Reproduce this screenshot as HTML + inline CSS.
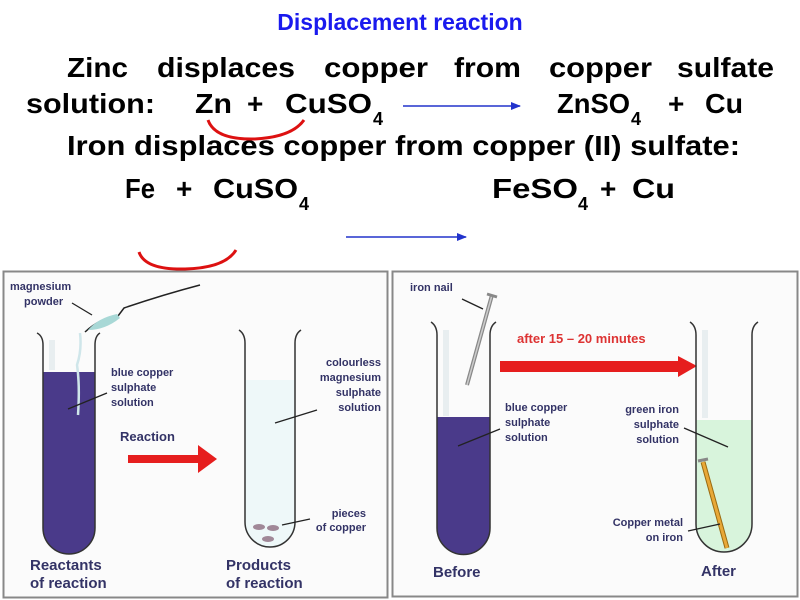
<!DOCTYPE html>
<html><head><meta charset="utf-8"><style>
html,body{margin:0;padding:0;background:#fff;}
svg{display:block;}
text{font-family:"Liberation Sans",Arial,sans-serif;font-weight:bold;}
</style></head><body>
<svg width="800" height="600" viewBox="0 0 800 600" xmlns="http://www.w3.org/2000/svg">
<defs>
<marker id="ba" markerWidth="10" markerHeight="8" refX="9" refY="4" orient="auto" markerUnits="userSpaceOnUse"><path d="M0,0 L10,4 L0,8 Z" fill="#2233cc"/></marker>
</defs>
<text x="400" y="30" font-size="23" fill="#1a1aee" text-anchor="middle">Displacement reaction</text>
<g font-size="28" fill="#000">
<text x="67" y="77" textLength="61" lengthAdjust="spacingAndGlyphs">Zinc</text>
<text x="157" y="77" textLength="138" lengthAdjust="spacingAndGlyphs">displaces</text>
<text x="324" y="77" textLength="104" lengthAdjust="spacingAndGlyphs">copper</text>
<text x="454" y="77" textLength="67" lengthAdjust="spacingAndGlyphs">from</text>
<text x="549" y="77" textLength="103" lengthAdjust="spacingAndGlyphs">copper</text>
<text x="677" y="77" textLength="97" lengthAdjust="spacingAndGlyphs">sulfate</text>
<text x="26" y="113" textLength="129" lengthAdjust="spacingAndGlyphs">solution:</text>
<text x="195" y="113" textLength="37" lengthAdjust="spacingAndGlyphs">Zn</text>
<text x="247" y="113">+</text>
<text x="285" y="113" textLength="87" lengthAdjust="spacingAndGlyphs">CuSO</text>
<text x="373" y="125" font-size="18">4</text>
<text x="557" y="113" textLength="73" lengthAdjust="spacingAndGlyphs">ZnSO</text>
<text x="631" y="125" font-size="18">4</text>
<text x="668" y="113">+</text>
<text x="705" y="113" textLength="38" lengthAdjust="spacingAndGlyphs">Cu</text>
<text x="67" y="155" textLength="673" lengthAdjust="spacingAndGlyphs">Iron displaces copper from copper (II) sulfate:</text>
<text x="125" y="198" textLength="30" lengthAdjust="spacingAndGlyphs">Fe</text>
<text x="176" y="198">+</text>
<text x="213" y="198" textLength="85" lengthAdjust="spacingAndGlyphs">CuSO</text>
<text x="299" y="210" font-size="18">4</text>
<text x="492" y="198" textLength="86" lengthAdjust="spacingAndGlyphs">FeSO</text>
<text x="578" y="210" font-size="18">4</text>
<text x="600" y="198">+</text>
<text x="632" y="198" textLength="43" lengthAdjust="spacingAndGlyphs">Cu</text>
</g>
<line x1="403" y1="106" x2="520" y2="106" stroke="#2233cc" stroke-width="1.5" marker-end="url(#ba)"/>
<path d="M208,120 Q215,140 255,139 Q292,137 304,120" fill="none" stroke="#dd1111" stroke-width="3"/>
<line x1="346" y1="237" x2="466" y2="237" stroke="#2233cc" stroke-width="1.5" marker-end="url(#ba)"/>
<path d="M139,252 Q145,270 185,269 Q225,268 236,250" fill="none" stroke="#dd1111" stroke-width="3"/>

<rect x="3.5" y="271.5" width="384" height="326" fill="#fbfbfb" stroke="#888" stroke-width="2"/>
<path d="M43,372 L95,372 L95,528 A26,26 0 0 1 43,528 Z" fill="#4a3a8a"/>
<path d="M37,333 Q43,336 43,345 L43,528 A26,26 0 0 0 95,528 L95,345 Q95,336 100,333" fill="none" stroke="#333" stroke-width="1.5"/>
<rect x="49" y="340" width="6" height="30" fill="#e8eef0"/>
<path d="M80,333 Q82,350 77,365 Q80,385 78,415" fill="none" stroke="#cfe6ea" stroke-width="2.5"/>
<path d="M85,332 Q100,318 118,316 L124,308 Q162,295 200,285" fill="none" stroke="#222" stroke-width="1.5"/>
<path d="M88,330 Q98,318 117,314 L120,318 Q105,330 88,330Z" fill="#a8d8d6"/>
<line x1="72" y1="303" x2="92" y2="315" stroke="#222" stroke-width="1.3"/>
<text x="10" y="290" font-size="11" fill="#333366">magnesium</text>
<text x="24" y="305" font-size="11" fill="#333366">powder</text>
<line x1="68" y1="409" x2="107" y2="393" stroke="#222" stroke-width="1.3"/>
<text x="111" y="376" font-size="11" fill="#333366">blue copper</text>
<text x="111" y="391" font-size="11" fill="#333366">sulphate</text>
<text x="111" y="406" font-size="11" fill="#333366">solution</text>
<text x="120" y="441" font-size="13" fill="#333366">Reaction</text>
<path d="M128,455 L198,455 L198,445 L217,459 L198,473 L198,463 L128,463 Z" fill="#e61e1e"/>
<text x="30" y="570" font-size="15" fill="#333366">Reactants</text>
<text x="30" y="588" font-size="15" fill="#333366">of reaction</text>
<path d="M245,380 L295,380 L295,522 A25,25 0 0 1 245,522 Z" fill="#eef8f9"/>
<path d="M239,330 Q245,334 245,343 L245,522 A25,25 0 0 0 295,522 L295,343 Q295,334 301,330" fill="none" stroke="#333" stroke-width="1.5"/>
<ellipse cx="259" cy="527" rx="6" ry="3" fill="#a08898"/>
<ellipse cx="273" cy="528" rx="6" ry="3" fill="#a08898"/>
<ellipse cx="268" cy="539" rx="6" ry="3" fill="#a08898"/>
<line x1="275" y1="423" x2="317" y2="410" stroke="#222" stroke-width="1.3"/>
<text x="381" y="366" font-size="11" fill="#333366" text-anchor="end">colourless</text>
<text x="381" y="381" font-size="11" fill="#333366" text-anchor="end">magnesium</text>
<text x="381" y="396" font-size="11" fill="#333366" text-anchor="end">sulphate</text>
<text x="381" y="411" font-size="11" fill="#333366" text-anchor="end">solution</text>
<line x1="282" y1="525" x2="310" y2="519" stroke="#222" stroke-width="1.3"/>
<text x="366" y="517" font-size="11" fill="#333366" text-anchor="end">pieces</text>
<text x="366" y="531" font-size="11" fill="#333366" text-anchor="end">of copper</text>
<text x="226" y="570" font-size="15" fill="#333366">Products</text>
<text x="226" y="588" font-size="15" fill="#333366">of reaction</text>

<rect x="392.5" y="271.5" width="405" height="325" fill="#fbfbfb" stroke="#888" stroke-width="2"/>
<path d="M437,417 L490,417 L490,528 A26.5,26.5 0 0 1 437,528 Z" fill="#4a3a8a"/>
<path d="M431,322 Q437,326 437,335 L437,528 A26.5,26.5 0 0 0 490,528 L490,335 Q490,326 496,322" fill="none" stroke="#333" stroke-width="1.5"/>
<rect x="443" y="330" width="6" height="86" fill="#e8eef0"/>
<line x1="492" y1="295" x2="467" y2="385" stroke="#888" stroke-width="4"/>
<line x1="492" y1="295" x2="467" y2="385" stroke="#ccc" stroke-width="1.5"/>
<line x1="487" y1="294" x2="497" y2="297" stroke="#888" stroke-width="3"/>
<line x1="462" y1="299" x2="483" y2="309" stroke="#222" stroke-width="1.3"/>
<text x="410" y="291" font-size="11" fill="#333366">iron nail</text>
<line x1="458" y1="446" x2="500" y2="429" stroke="#222" stroke-width="1.3"/>
<text x="505" y="411" font-size="11" fill="#333366">blue copper</text>
<text x="505" y="426" font-size="11" fill="#333366">sulphate</text>
<text x="505" y="441" font-size="11" fill="#333366">solution</text>
<text x="517" y="343" font-size="13" fill="#dd3333">after 15 – 20 minutes</text>
<path d="M500,361 L678,361 L678,356 L697,366 L678,377 L678,372 L500,372 Z" fill="#e61e1e"/>
<path d="M696,420 L752,420 L752,524 A28,28 0 0 1 696,524 Z" fill="#d8f4dc"/>
<path d="M690,322 Q696,326 696,335 L696,524 A28,28 0 0 0 752,524 L752,335 Q752,326 758,322" fill="none" stroke="#333" stroke-width="1.5"/>
<rect x="702" y="330" width="6" height="88" fill="#e8eef0"/>
<line x1="703" y1="462" x2="727" y2="548" stroke="#9a6a10" stroke-width="5"/>
<line x1="703" y1="462" x2="727" y2="548" stroke="#e8a838" stroke-width="3"/>
<line x1="698" y1="461" x2="708" y2="459" stroke="#888" stroke-width="3"/>
<line x1="684" y1="428" x2="728" y2="447" stroke="#222" stroke-width="1.3"/>
<text x="679" y="413" font-size="11" fill="#333366" text-anchor="end">green iron</text>
<text x="679" y="428" font-size="11" fill="#333366" text-anchor="end">sulphate</text>
<text x="679" y="443" font-size="11" fill="#333366" text-anchor="end">solution</text>
<line x1="688" y1="531" x2="720" y2="524" stroke="#222" stroke-width="1.3"/>
<text x="683" y="526" font-size="11" fill="#333366" text-anchor="end">Copper metal</text>
<text x="683" y="541" font-size="11" fill="#333366" text-anchor="end">on iron</text>
<text x="433" y="577" font-size="15" fill="#333366">Before</text>
<text x="701" y="576" font-size="15" fill="#333366">After</text>
</svg>
</body></html>
